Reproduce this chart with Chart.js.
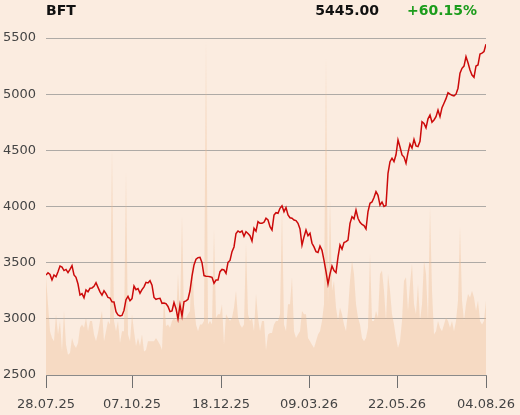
<!DOCTYPE html>
<html>
<head>
<meta charset="utf-8">
<script src="https://cdn.jsdelivr.net/npm/chart.js@4"></script>
<style>
  html, body { margin: 0; padding: 0; background: #fbece0; }
  #wrap { position: relative; width: 520px; height: 415px; overflow: hidden; }
  canvas { position: absolute; left: 0; top: 0; }
  .hd { position: absolute; top: 0; height: 20px; line-height: 20px; font-family: "DejaVu Sans", sans-serif; font-weight: bold; font-size: 14px; white-space: nowrap; }
</style>
</head>
<body>
<div id="wrap">
  <canvas id="c" width="520" height="415"></canvas>
  <div class="hd" id="sym" style="left:46px;color:#111;"></div>
  <div class="hd" id="last" style="right:141px;color:#111;"></div>
  <div class="hd" id="chg" style="right:43px;color:#1c9c1c;"></div>
</div>
<script>
// ---- header ----
const symbol = "BFT";
const lastPrice = "5445.00";
const change = "+60.15%";

// ---- x-axis tick labels and their positions (index into the series) ----
const tickLabels = ["28.07.25", "07.10.25", "18.12.25", "09.03.26", "22.05.26", "04.08.26"];
const tickIndex = [0, 43, 87.5, 131.5, 175.5, 220];

// ---- y-axis ----
const yTicks = [2500, 3000, 3500, 4000, 4500, 5000, 5500];

// ---- price series (daily close) ----
const price = [
  3390,3410,3395,3346,3390,3375,3420,3470,3460,3430,
  3440,3411,3440,3473,3390,3370,3310,3212,3225,3188,
  3257,3240,3272,3275,3290,3322,3280,3240,3210,3250,
  3225,3190,3185,3152,3150,3064,3034,3025,3030,3075,
  3170,3200,3161,3180,3292,3260,3270,3228,3260,3285,
  3325,3320,3340,3300,3190,3174,3180,3183,3138,3140,
  3135,3110,3064,3070,3145,3090,3000,3123,3025,3152,
  3160,3174,3250,3380,3480,3530,3545,3548,3500,3385,
  3380,3378,3375,3370,3316,3345,3345,3420,3440,3435,
  3405,3503,3520,3598,3640,3760,3782,3770,3782,3735,
  3776,3760,3740,3693,3806,3780,3865,3850,3850,3860,
  3895,3880,3820,3791,3924,3945,3940,3984,4007,3954,
  3990,3924,3900,3895,3880,3874,3850,3800,3657,3730,
  3791,3740,3762,3673,3640,3598,3590,3648,3610,3520,
  3420,3310,3400,3470,3430,3411,3550,3657,3620,3680,
  3687,3700,3850,3909,3890,3969,3895,3860,3840,3830,
  3800,3954,4029,4040,4080,4132,4100,4013,4040,4000,
  4010,4296,4399,4430,4400,4460,4592,4530,4459,4440,
  4385,4480,4556,4520,4598,4540,4533,4580,4755,4740,
  4700,4780,4815,4750,4770,4800,4859,4800,4880,4919,
  4960,5013,5000,4990,4984,5000,5053,5186,5230,5250,
  5334,5280,5215,5170,5150,5251,5260,5358,5365,5380,
  5445
];

// ---- volume series (relative units) ----
const volume = [
  29,21,13,11,10,18,12,16,7,19,
  9,6,6.5,11,9,8,9.5,14,15,14,
  17,13,16,16,12,10,12.5,16,19,10,
  13,16,15,67,16,13,16,9.5,13,13,
  60,12,10,18,13,8.6,11,8.6,12,7,
  7.4,10,10,10,10,11,10,9,7.4,23,
  14.5,15,14,16,17,16,30,18,47,17,
  17,18,19,36,21,15,13,15,15,16,
  99,15,16,15,43,17,18,18,21,9,
  18,17,16,17,20,25,17,15,14,15,
  39,18,16,17,13,24,17,13,16,16,
  7.4,12,12.5,12.5,15,16,16,18,49,15,
  13,21,21,29,13,11,12,13,19,18,
  18,11,10,9,8,10,12,13,16,21,
  94,21,52,25,28,20,16,20,18,15,
  13,19,28,34,30,21,17,15,11,10,
  11,14,36,16,16,19,17,30,31,25,
  16,30,25,18,15,11,8,10,16,28,
  29,19,27,33,21,18,27,16,21,34,
  30,16,50,25,12,13,16,14,13,15,
  17,16,14,16,13,16,22,44,22,16,
  21,24,23,25,23,19,22,16,15,16,
  22
];

document.getElementById('sym').textContent = symbol;
document.getElementById('last').textContent = lastPrice;
document.getElementById('chg').textContent = change;

const pricePts = price.map((v, i) => ({ x: i, y: v }));
const volPts = volume.map((v, i) => ({ x: i, y: v }));

const FONT = '"DejaVu Sans", sans-serif';

new Chart(document.getElementById('c'), {
  type: 'line',
  data: {
    datasets: [
      {
        label: 'Price',
        data: pricePts,
        yAxisID: 'y',
        borderColor: '#cc0a0a',
        borderWidth: 1.5,
        pointRadius: 0,
        tension: 0,
        fill: false,
        order: 1
      },
      {
        label: 'Volume',
        data: volPts,
        yAxisID: 'yv',
        borderWidth: 0,
        borderColor: 'rgba(0,0,0,0)',
        backgroundColor: 'rgba(240,188,148,0.38)',
        pointRadius: 0,
        tension: 0,
        fill: 'origin',
        order: 2
      }
    ]
  },
  options: {
    responsive: false,
    animation: false,
    events: [],
    layout: { padding: { left: 3, right: 34, top: 38, bottom: 0 } },
    plugins: { legend: { display: false }, tooltip: { enabled: false }, title: { display: false } },
    scales: {
      x: {
        type: 'linear',
        min: 0,
        max: price.length - 1,
        z: 1,
        afterBuildTicks: (s) => { s.ticks = tickIndex.map(v => ({ value: v })); },
        afterFit: (s) => { s.height = 40; s.paddingLeft = 0; s.paddingRight = 0; },
        ticks: {
          autoSkip: false,
          maxRotation: 0,
          padding: 9,
          color: '#444',
          font: { family: FONT, size: 13 },
          callback: (v, i) => tickLabels[i]
        },
        grid: { drawOnChartArea: false, drawTicks: true, tickLength: 13, color: '#6f6f6f', lineWidth: 1 },
        border: { display: true, color: '#8a8a8a', width: 1 }
      },
      y: {
        type: 'linear',
        position: 'left',
        min: 2500,
        max: 5500,
        z: 1,
        afterBuildTicks: (s) => { s.ticks = yTicks.map(v => ({ value: v })); },
        afterFit: (s) => { s.width = 43; s.paddingTop = 0; s.paddingBottom = 0; },
        ticks: {
          crossAlign: 'far',
          padding: 0,
          color: '#444',
          font: { family: FONT, size: 13 },
          callback: (v) => String(v)
        },
        grid: { drawTicks: false, color: '#aeaaa6', lineWidth: 1 },
        border: { display: false }
      },
      yv: {
        type: 'linear',
        display: false,
        min: 0,
        max: 100
      }
    }
  }
});
</script>
</body>
</html>
